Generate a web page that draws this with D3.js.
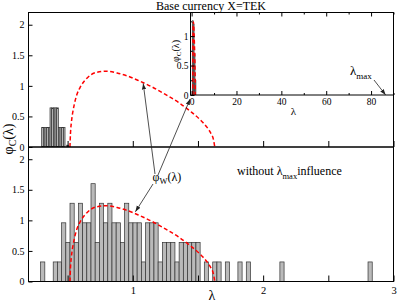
<!DOCTYPE html>
<html>
<head>
<meta charset="utf-8">
<script src="https://cdn.jsdelivr.net/npm/d3@7"></script>
<style>
  body { margin: 0; background: #fff; }
  svg { display: block; font-family: 'Liberation Serif', 'DejaVu Serif', serif; }
</style>
</head>
<body>
<svg width="397" height="303"></svg>
<script>
// eigenvalue density, bottom panel histogram (bins in lambda)
const BIN_START = 0.293;
const BIN_WIDTH = 0.0322;
const binHeights = [
  0.32, 0, 0, 0.32, 0.32, 0.96, 0.64, 1.28, 0.64, 1.28,
  0.96, 0.96, 1.6, 0.64, 1.28, 0.96, 1.28, 0.96, 0.96, 0.64,
  1.28, 0.96, 0.96, 0.96, 0.32, 0.96, 0.96, 0.96, 0.32, 0.64,
  0.64, 0.64, 0.32, 0.64, 0.64, 0.64, 0.64, 0.64, 0, 0.32,
  0, 0.32, 0.32, 0, 0.32, 0, 0, 0.32, 0, 0.32,
  0, 0, 0, 0, 0, 0, 0, 0.32, 0, 0,
  0, 0, 0, 0, 0, 0, 0, 0, 0, 0,
  0, 0, 0, 0, 0, 0, 0, 0, 0.32
];

// top panel histogram (full spectrum, narrow bins)
const TOP_BIN_START = 0.301;
const TOP_BIN_WIDTH = 0.0128;
const topBinHeights = [0.32, 0.32, 0.32, 0.32, 0.32, 0.64, 0.64, 0.64, 0.64, 0.64,
  0.32, 0.32, 0.32, 0.32, 0, 0.03];

// inset histogram (0..90 range)
const INSET_BIN_START = 0.3;
const INSET_BIN_WIDTH = 0.4;
const insetBinHeights = [1.26, 1.2, 0.7, 0.25];

// red dashed theoretical density phi_W(lambda)
const curveLambda = [0.518, 0.522, 0.53, 0.545, 0.57, 0.6, 0.65, 0.72, 0.8, 0.88, 0.96,
  1.05, 1.15, 1.25, 1.35, 1.45, 1.52, 1.57, 1.6, 1.618, 1.629];
const curvePhi = [0, 0.22, 0.42, 0.63, 0.85, 0.99, 1.13, 1.22, 1.24, 1.21, 1.16,
  1.08, 0.98, 0.86, 0.73, 0.57, 0.44, 0.32, 0.22, 0.13, 0];

const LAMBDA_MAX = 86.5;

const yTicks = [0, 0.5, 1, 1.5, 2];
const xTicks = [0.5, 1, 1.5, 2, 2.5, 3];
const xTickLabels = [1, 2, 3];
const insetXTicks = [0, 20, 40, 60, 80];
const insetXMinor = [10, 30, 50, 70, 90];
const insetYTicks = [0, 0.5, 1];
const insetYMinor = [0.25, 0.75, 1.25];

const FONT = "'Liberation Serif', 'DejaVu Serif', serif";
const svg = d3.select('svg');

const x = d3.scaleLinear().domain([0.2, 3]).range([28.5, 393.5]);
const yTop = d3.scaleLinear().domain([0, 2.2]).range([147, 12.5]);
const yBot = d3.scaleLinear().domain([0, 2.2]).range([281.5, 147]);
const xIn = d3.scaleLinear().domain([-0.5, 90]).range([190.5, 393.5]);
const yIn = d3.scaleLinear().domain([0, 1.4]).range([95, 12.5]);

const curveData = curveLambda.map((l, i) => [l, curvePhi[i]]);

const defs = svg.append('defs');
defs.append('marker')
  .attr('id', 'arrowhead')
  .attr('viewBox', '0 -5 10 10')
  .attr('refX', 10)
  .attr('refY', 0)
  .attr('orient', 'auto')
  .attr('markerUnits', 'userSpaceOnUse')
  .attr('markerWidth', 6)
  .attr('markerHeight', 6)
  .append('path')
  .attr('d', 'M0,-3.5L10,0L0,3.5Z')
  .attr('fill', '#222');

function addClip(id, xs, ys) {
  defs.append('clipPath').attr('id', id)
    .append('rect')
    .attr('x', xs.range()[0])
    .attr('y', ys.range()[1])
    .attr('width', xs.range()[1] - xs.range()[0])
    .attr('height', ys.range()[0] - ys.range()[1]);
}
addClip('clipTop', x, yTop);
addClip('clipBot', x, yBot);
addClip('clipIn', xIn, yIn);

function drawBars(g, start, width, heights, xs, ys) {
  const bins = heights.map((h, i) => ({ x0: start + i * width, x1: start + (i + 1) * width, h }))
    .filter(d => d.h > 0);
  g.selectAll('.bar')
    .data(bins)
    .enter()
    .append('rect')
    .attr('class', 'bar')
    .attr('x', d => xs(d.x0))
    .attr('width', d => Math.max(0.6, xs(d.x1) - xs(d.x0)))
    .attr('y', d => ys(d.h))
    .attr('height', d => ys(0) - ys(d.h))
    .attr('fill', '#bababa')
    .attr('stroke', '#333')
    .attr('stroke-width', 0.7);
}

function drawCurve(g, xs, ys) {
  const line = d3.line()
    .x(d => xs(d[0]))
    .y(d => ys(d[1]))
    .curve(d3.curveMonotoneX);
  g.append('path')
    .datum(curveData)
    .attr('d', line)
    .attr('fill', 'none')
    .attr('stroke', '#ff0000')
    .attr('stroke-width', 1.5)
    .attr('stroke-dasharray', '4,2.5');
}

function styleAxis(g, size) {
  g.select('.domain').remove();
  g.selectAll('line').attr('stroke', '#000');
  g.selectAll('text').attr('font-family', FONT).attr('font-size', size).attr('fill', '#000');
}

// ---- top panel
const gTop = svg.append('g');
drawBars(gTop.append('g').attr('clip-path', 'url(#clipTop)'), TOP_BIN_START, TOP_BIN_WIDTH, topBinHeights, x, yTop);
drawCurve(gTop.append('g').attr('clip-path', 'url(#clipTop)'), x, yTop);

gTop.append('g')
  .attr('transform', `translate(0,${yTop(0)})`)
  .call(d3.axisBottom(x).tickValues(xTicks).tickSize(-6).tickSizeOuter(0).tickFormat(''))
  .call(g => styleAxis(g, 10));
gTop.append('g')
  .attr('transform', `translate(${x.range()[0]},0)`)
  .call(d3.axisLeft(yTop).tickValues(yTicks).tickSize(-4).tickSizeOuter(0).tickPadding(4).tickFormat(d3.format('')))
  .call(g => styleAxis(g, 10));
gTop.append('rect')
  .attr('x', x.range()[0]).attr('y', yTop.range()[1])
  .attr('width', x.range()[1] - x.range()[0]).attr('height', yTop.range()[0] - yTop.range()[1])
  .attr('fill', 'none').attr('stroke', '#000').attr('stroke-width', 1);

// ---- bottom panel
const gBot = svg.append('g');
drawBars(gBot.append('g').attr('clip-path', 'url(#clipBot)'), BIN_START, BIN_WIDTH, binHeights, x, yBot);
drawCurve(gBot.append('g').attr('clip-path', 'url(#clipBot)'), x, yBot);

gBot.append('g')
  .attr('transform', `translate(0,${yBot(0)})`)
  .call(d3.axisBottom(x).tickValues(xTicks).tickSize(-6).tickSizeOuter(0).tickPadding(5)
    .tickFormat(d => xTickLabels.includes(d) ? d : ''))
  .call(g => styleAxis(g, 10.5));
gBot.append('g')
  .attr('transform', `translate(${x.range()[0]},0)`)
  .call(d3.axisLeft(yBot).tickValues(yTicks).tickSize(-4).tickSizeOuter(0).tickPadding(4).tickFormat(d3.format('')))
  .call(g => styleAxis(g, 10));
gBot.append('rect')
  .attr('x', x.range()[0]).attr('y', yBot.range()[1])
  .attr('width', x.range()[1] - x.range()[0]).attr('height', yBot.range()[0] - yBot.range()[1])
  .attr('fill', 'none').attr('stroke', '#000').attr('stroke-width', 1);

// ---- inset
const gIn = svg.append('g');
gIn.append('rect')
  .attr('x', xIn.range()[0]).attr('y', yIn.range()[1])
  .attr('width', xIn.range()[1] - xIn.range()[0]).attr('height', yIn.range()[0] - yIn.range()[1])
  .attr('fill', '#fff');
drawBars(gIn.append('g').attr('clip-path', 'url(#clipIn)'), INSET_BIN_START, INSET_BIN_WIDTH, insetBinHeights, xIn, yIn);
drawCurve(gIn.append('g').attr('clip-path', 'url(#clipIn)'), xIn, yIn);

gIn.append('g')
  .attr('transform', `translate(0,${yIn(0)})`)
  .call(d3.axisBottom(xIn).tickValues(insetXTicks).tickSize(-4).tickSizeOuter(0).tickPadding(3))
  .call(g => styleAxis(g, 9.5));
gIn.append('g')
  .attr('transform', `translate(0,${yIn(0)})`)
  .call(d3.axisBottom(xIn).tickValues(insetXMinor).tickSize(-2).tickSizeOuter(0).tickFormat(''))
  .call(g => styleAxis(g, 9.5));
gIn.append('g')
  .attr('transform', `translate(0,${yIn.range()[1]})`)
  .call(d3.axisTop(xIn).tickValues(insetXTicks).tickSize(-4).tickSizeOuter(0).tickFormat(''))
  .call(g => styleAxis(g, 9.5));
gIn.append('g')
  .attr('transform', `translate(0,${yIn.range()[1]})`)
  .call(d3.axisTop(xIn).tickValues(insetXMinor).tickSize(-2).tickSizeOuter(0).tickFormat(''))
  .call(g => styleAxis(g, 9.5));
gIn.append('g')
  .attr('transform', `translate(${xIn.range()[0]},0)`)
  .call(d3.axisLeft(yIn).tickValues(insetYTicks).tickSize(-4).tickSizeOuter(0).tickPadding(2).tickFormat(d3.format('')))
  .call(g => styleAxis(g, 9.5));
gIn.append('g')
  .attr('transform', `translate(${xIn.range()[0]},0)`)
  .call(d3.axisLeft(yIn).tickValues(insetYMinor).tickSize(-2).tickSizeOuter(0).tickFormat(''))
  .call(g => styleAxis(g, 9.5));
gIn.append('rect')
  .attr('x', xIn.range()[0]).attr('y', yIn.range()[1])
  .attr('width', xIn.range()[1] - xIn.range()[0]).attr('height', yIn.range()[0] - yIn.range()[1])
  .attr('fill', 'none').attr('stroke', '#000').attr('stroke-width', 1);

gIn.append('text')
  .attr('x', 293.5).attr('y', 115)
  .attr('text-anchor', 'middle')
  .attr('font-size', 11)
  .text('λ');
gIn.append('text')
  .attr('transform', 'translate(178.5,51) rotate(-90)')
  .attr('text-anchor', 'middle')
  .attr('font-size', 10)
  .call(t => {
    t.append('tspan').text('φ');
    t.append('tspan').attr('font-size', 7).attr('dy', 2.5).text('C');
    t.append('tspan').attr('dy', -2.5).text('(λ)');
  });

// lambda max annotation
gIn.append('text')
  .attr('x', 350).attr('y', 75)
  .attr('font-size', 13)
  .call(t => {
    t.append('tspan').text('λ');
    t.append('tspan').attr('font-size', 9).attr('dy', 4).text('max');
  });
gIn.append('line')
  .attr('x1', 374).attr('y1', 80)
  .attr('x2', xIn(LAMBDA_MAX)).attr('y2', yIn(0))
  .attr('stroke', '#222').attr('stroke-width', 0.8)
  .attr('marker-end', 'url(#arrowhead)');

// ---- annotations
svg.append('text')
  .attr('x', 211).attr('y', 10)
  .attr('text-anchor', 'middle')
  .attr('font-size', 12)
  .text('Base currency X=TEK');

svg.append('text')
  .attr('transform', 'translate(12.5,139) rotate(-90)')
  .attr('text-anchor', 'middle')
  .attr('font-size', 14)
  .call(t => {
    t.append('tspan').text('φ');
    t.append('tspan').attr('font-size', 10).attr('dy', 3).text('C');
    t.append('tspan').attr('dy', -3).text('(λ)');
  });

svg.append('text')
  .attr('x', 212).attr('y', 300)
  .attr('text-anchor', 'middle')
  .attr('font-size', 14)
  .text('λ');

svg.append('text')
  .attr('x', 237).attr('y', 174.5)
  .attr('font-size', 12)
  .call(t => {
    t.append('tspan').text('without λ');
    t.append('tspan').attr('font-size', 8.5).attr('dy', 4).text('max');
    t.append('tspan').attr('dy', -4).text('influence');
  });

svg.append('text')
  .attr('x', 152.5).attr('y', 181)
  .attr('font-size', 12)
  .call(t => {
    t.append('tspan').text('φ');
    t.append('tspan').attr('font-size', 8.5).attr('dy', 3).text('W');
    t.append('tspan').attr('dy', -3).text('(λ)');
  });

const arrows = [
  { x1: 155, y1: 174, x2: x(1.08), y2: yTop(1.04) },
  { x1: 158, y1: 175, x2: xIn(0) - 1.5, y2: yIn(0) + 4 },
  { x1: 153, y1: 184, x2: x(1.02), y2: yBot(1.14) }
];
svg.selectAll('.arrow')
  .data(arrows)
  .enter()
  .append('line')
  .attr('class', 'arrow')
  .attr('x1', d => d.x1).attr('y1', d => d.y1)
  .attr('x2', d => d.x2).attr('y2', d => d.y2)
  .attr('stroke', '#222')
  .attr('stroke-width', 0.8)
  .attr('marker-end', 'url(#arrowhead)');
</script>
</body>
</html>
